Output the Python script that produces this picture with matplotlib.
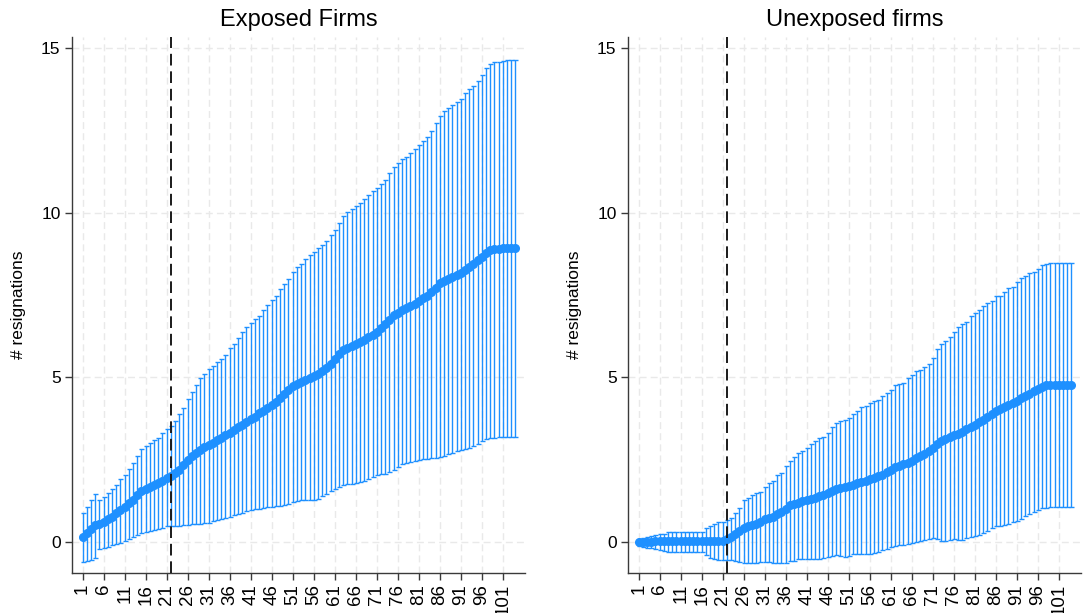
import matplotlib
matplotlib.use("Agg")
import matplotlib.pyplot as plt
import numpy as np

plt.rcParams['font.family'] = ['Liberation Sans', 'DejaVu Sans']

days = list(range(1, 105))
event_day = 22
x_ticks = list(range(1, 102, 5))
y_ticks = [0, 5, 10, 15]
titles = ["Exposed Firms", "Unexposed firms"]
y_label = "# resignations"

# exposed firms
exp_mean = [0.15, 0.29, 0.41, 0.52, 0.55, 0.62, 0.70, 0.78, 0.88, 0.98,
            1.08, 1.18, 1.30, 1.43, 1.56, 1.61, 1.67, 1.73, 1.79, 1.87,
            1.95, 2.01, 2.09, 2.19, 2.34, 2.50, 2.62, 2.72, 2.80, 2.88,
            2.95, 3.02, 3.09, 3.17, 3.25, 3.32, 3.41, 3.49, 3.57, 3.66,
            3.73, 3.81, 3.91, 3.98, 4.07, 4.17, 4.27, 4.38, 4.50, 4.62,
            4.74, 4.80, 4.86, 4.92, 4.98, 5.04, 5.11, 5.19, 5.30, 5.42,
            5.56, 5.70, 5.82, 5.88, 5.95, 6.02, 6.08, 6.15, 6.22, 6.30,
            6.39, 6.50, 6.62, 6.74, 6.88, 6.97, 7.04, 7.10, 7.16, 7.24,
            7.32, 7.40, 7.48, 7.58, 7.72, 7.86, 7.94, 8.00, 8.05, 8.11,
            8.18, 8.26, 8.35, 8.45, 8.55, 8.65, 8.76, 8.86, 8.90, 8.91,
            8.92, 8.92, 8.93, 8.93]
exp_upper = [0.90, 1.08, 1.30, 1.46, 1.28, 1.38, 1.49, 1.61, 1.75, 1.91,
             2.04, 2.23, 2.41, 2.62, 2.84, 2.92, 3.00, 3.10, 3.18, 3.31,
             3.43, 3.54, 3.69, 3.89, 4.06, 4.35, 4.57, 4.77, 4.99, 5.10,
             5.26, 5.36, 5.47, 5.57, 5.69, 5.90, 6.01, 6.19, 6.37, 6.54,
             6.64, 6.76, 6.87, 7.05, 7.20, 7.35, 7.48, 7.67, 7.83, 7.98,
             8.21, 8.36, 8.44, 8.58, 8.71, 8.81, 8.92, 9.02, 9.15, 9.32,
             9.48, 9.69, 9.91, 10.03, 10.10, 10.20, 10.30, 10.42, 10.53, 10.66,
             10.76, 10.86, 10.99, 11.21, 11.39, 11.50, 11.63, 11.70, 11.82, 11.93,
             12.05, 12.18, 12.30, 12.47, 12.71, 12.93, 13.09, 13.18, 13.26, 13.35,
             13.44, 13.62, 13.74, 13.85, 13.99, 14.17, 14.38, 14.51, 14.57, 14.58,
             14.60, 14.62, 14.63, 14.64]
exp_lower = [-0.59, -0.55, -0.52, -0.48, -0.21, -0.17, -0.13, -0.09, -0.05, -0.01,
             0.04, 0.09, 0.15, 0.21, 0.27, 0.30, 0.33, 0.37, 0.41, 0.45,
             0.49, 0.50, 0.50, 0.51, 0.53, 0.53, 0.55, 0.56, 0.55, 0.58,
             0.59, 0.64, 0.68, 0.72, 0.75, 0.78, 0.82, 0.86, 0.90, 0.94,
             0.98, 1.00, 1.02, 1.04, 1.06, 1.08, 1.09, 1.10, 1.13, 1.17,
             1.22, 1.25, 1.27, 1.28, 1.29, 1.30, 1.33, 1.40, 1.48, 1.55,
             1.62, 1.68, 1.73, 1.76, 1.78, 1.80, 1.82, 1.86, 1.92, 1.98,
             2.03, 2.06, 2.08, 2.12, 2.20, 2.30, 2.38, 2.42, 2.45, 2.48,
             2.50, 2.52, 2.54, 2.55, 2.57, 2.60, 2.63, 2.67, 2.72, 2.76,
             2.79, 2.82, 2.86, 2.92, 2.98, 3.06, 3.12, 3.16, 3.18, 3.19,
             3.19, 3.19, 3.19, 3.19]

# unexposed firms
unexp_mean = [0.00, 0.01, 0.02, 0.02, 0.03, 0.03, 0.03, 0.03, 0.03, 0.03,
              0.03, 0.03, 0.03, 0.03, 0.03, 0.03, 0.04, 0.04, 0.05, 0.05,
              0.05, 0.09, 0.16, 0.26, 0.36, 0.45, 0.49, 0.52, 0.57, 0.63,
              0.70, 0.74, 0.78, 0.85, 0.93, 1.01, 1.12, 1.17, 1.20, 1.25,
              1.30, 1.32, 1.36, 1.41, 1.45, 1.50, 1.55, 1.61, 1.64, 1.67,
              1.71, 1.74, 1.79, 1.82, 1.87, 1.92, 1.96, 2.00, 2.05, 2.13,
              2.20, 2.28, 2.31, 2.37, 2.42, 2.47, 2.55, 2.62, 2.68, 2.76,
              2.86, 2.97, 3.06, 3.13, 3.20, 3.25, 3.30, 3.36, 3.43, 3.49,
              3.57, 3.64, 3.72, 3.80, 3.88, 3.97, 4.03, 4.11, 4.17, 4.22,
              4.29, 4.37, 4.43, 4.50, 4.58, 4.64, 4.71, 4.76, 4.77, 4.78,
              4.78, 4.78, 4.78, 4.78]
unexp_upper = [0.10, 0.14, 0.17, 0.20, 0.22, 0.24, 0.26, 0.31, 0.32, 0.32,
               0.32, 0.32, 0.32, 0.32, 0.32, 0.32, 0.44, 0.51, 0.57, 0.61,
               0.61, 0.68, 0.73, 0.88, 1.03, 1.28, 1.36, 1.44, 1.49, 1.54,
               1.69, 1.79, 1.86, 2.04, 2.09, 2.33, 2.47, 2.60, 2.70, 2.78,
               2.86, 2.99, 3.06, 3.15, 3.20, 3.33, 3.51, 3.62, 3.67, 3.72,
               3.77, 3.88, 3.98, 4.09, 4.14, 4.22, 4.29, 4.33, 4.43, 4.53,
               4.63, 4.76, 4.80, 4.82, 4.97, 5.08, 5.20, 5.24, 5.31, 5.41,
               5.58, 5.86, 6.01, 6.12, 6.22, 6.38, 6.52, 6.62, 6.69, 6.87,
               6.95, 7.06, 7.16, 7.27, 7.32, 7.46, 7.48, 7.58, 7.71, 7.74,
               7.90, 8.01, 8.09, 8.16, 8.21, 8.30, 8.40, 8.43, 8.46, 8.47,
               8.48, 8.48, 8.48, 8.48]
unexp_lower = [-0.10, -0.13, -0.16, -0.18, -0.20, -0.23, -0.26, -0.28, -0.28, -0.28,
               -0.28, -0.28, -0.28, -0.28, -0.28, -0.28, -0.38, -0.47, -0.51, -0.52,
               -0.52, -0.52, -0.54, -0.55, -0.59, -0.61, -0.61, -0.61, -0.61, -0.59,
               -0.60, -0.59, -0.61, -0.63, -0.64, -0.61, -0.57, -0.55, -0.51, -0.51,
               -0.51, -0.51, -0.51, -0.49, -0.47, -0.43, -0.40, -0.38, -0.40, -0.44,
               -0.40, -0.34, -0.34, -0.34, -0.34, -0.34, -0.33, -0.29, -0.24, -0.19,
               -0.14, -0.10, -0.08, -0.07, -0.05, -0.03, 0.00, 0.03, 0.07, 0.09,
               0.13, 0.10, 0.03, 0.05, 0.07, 0.09, 0.07, 0.07, 0.13, 0.16,
               0.20, 0.23, 0.28, 0.36, 0.44, 0.49, 0.51, 0.54, 0.57, 0.62,
               0.65, 0.72, 0.80, 0.85, 0.91, 0.99, 1.03, 1.05, 1.06, 1.06,
               1.06, 1.06, 1.06, 1.06]

blue = '#1E90FF'
axis_col = '#3a3a3a'

fig = plt.figure(figsize=(10.83, 6.13), dpi=100)
ax_left = fig.add_axes([0.0662, 0.0657, 0.4186, 0.8743])
ax_right = fig.add_axes([0.5796, 0.0657, 0.4186, 0.8743])

panels = [(ax_left, exp_mean, exp_lower, exp_upper),
          (ax_right, unexp_mean, unexp_lower, unexp_upper)]

for (ax, mean, lower, upper), title in zip(panels, titles):
    mean = np.array(mean)
    yerr = [mean - np.array(lower), np.array(upper) - mean]

    ax.errorbar(days, mean, yerr=yerr, fmt='none', ecolor=blue,
                elinewidth=1.0, capsize=1.8, capthick=1.0, zorder=3)
    ax.plot(days, mean, color=blue, linewidth=3.5, marker='o',
            markersize=5.5, zorder=4)
    ax.axvline(event_day, color='#1a1a1a', linestyle=(0, (6, 3)),
               linewidth=1.4, zorder=5)

    ax.set_xlim(-1.6, 106.3)
    ax.set_ylim(-0.92, 15.33)
    ax.set_xticks(x_ticks)
    ax.set_xticklabels([str(t) for t in x_ticks], rotation=90, fontsize=13.5)
    ax.set_yticks(y_ticks)
    ax.set_yticklabels([str(t) for t in y_ticks], fontsize=12.5)
    ax.set_ylabel(y_label, fontsize=12.5, labelpad=11)
    ax.set_title(title, fontsize=17, pad=8)

    ax.grid(visible=True, color='#e9e9e9', linestyle=(0, (5, 3)), linewidth=1.0)
    ax.set_axisbelow(True)
    for side in ['top', 'right']:
        ax.spines[side].set_visible(False)
    for side in ['left', 'bottom']:
        ax.spines[side].set_color(axis_col)
        ax.spines[side].set_linewidth(1.0)
    ax.tick_params(axis='both', direction='out', length=5, width=1.0,
                   color=axis_col, labelcolor='black', pad=3)

plt.savefig("out.png", dpi=100)
plt.close(fig)
